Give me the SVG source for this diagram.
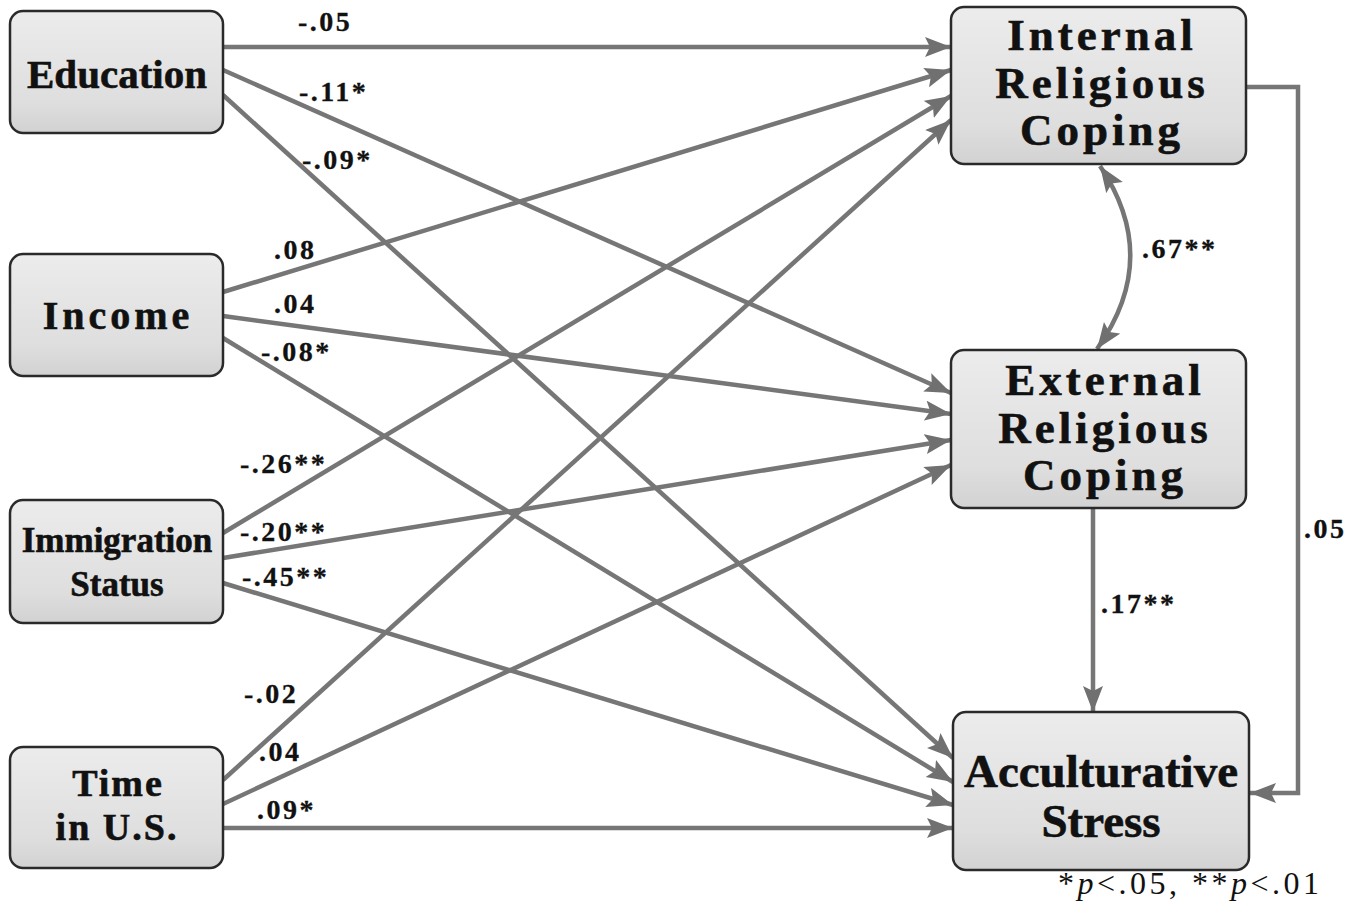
<svg xmlns="http://www.w3.org/2000/svg" width="1365" height="918" viewBox="0 0 1365 918">
<style>
.box{fill:url(#g);stroke:#2a2a2a;stroke-width:2.5}
.lbl{font-family:"Liberation Serif","Times New Roman",serif;font-weight:bold;fill:#111;stroke:#111;stroke-width:0.6;text-anchor:middle}
.pl{font-family:"Liberation Serif","Times New Roman",serif;font-weight:bold;font-size:28px;letter-spacing:2.5px;fill:#111;stroke:#111;stroke-width:0.3}
.c{fill:none;stroke:#767676;stroke-width:4.5}
</style>
<defs>
<linearGradient id="g" x1="0" y1="0" x2="0" y2="1">
<stop offset="0" stop-color="#ececec"/>
<stop offset="0.75" stop-color="#dedede"/>
<stop offset="1" stop-color="#d2d2d2"/>
</linearGradient>
<marker id="ah" markerUnits="userSpaceOnUse" markerWidth="28" markerHeight="22" refX="26" refY="10" orient="auto-start-reverse">
<path d="M0,0 L26,10 L0,20 L5,10 z" fill="#707070"/>
</marker>
</defs>
<rect width="1365" height="918" fill="#ffffff"/>

<g id="connectors">
<path class="c" marker-end="url(#ah)" d="M223,47 L951,47"/>
<path class="c" marker-end="url(#ah)" d="M223,70 L951,393"/>
<path class="c" marker-end="url(#ah)" d="M223,95 L953,758"/>
<path class="c" marker-end="url(#ah)" d="M223,292 L951,70"/>
<path class="c" marker-end="url(#ah)" d="M223,316 L951,414"/>
<path class="c" marker-end="url(#ah)" d="M223,338 L953,782"/>
<path class="c" marker-end="url(#ah)" d="M223,533 L951,96"/>
<path class="c" marker-end="url(#ah)" d="M223,558 L951,440"/>
<path class="c" marker-end="url(#ah)" d="M223,583 L953,805"/>
<path class="c" marker-end="url(#ah)" d="M223,780 L951,120"/>
<path class="c" marker-end="url(#ah)" d="M223,804 L951,465"/>
<path class="c" marker-end="url(#ah)" d="M223,828 L953,828"/>
<path class="c" marker-start="url(#ah)" marker-end="url(#ah)" d="M1100,166 Q1162,258 1097,349"/>
<path class="c" marker-end="url(#ah)" d="M1093,508 L1093,712"/>
<path class="c" marker-end="url(#ah)" d="M1246,87 L1298,87 L1298,793 L1250,793"/>
<text class="pl" x="298" y="31">-.05</text>
<text class="pl" x="299" y="101">-.11*</text>
<text class="pl" x="302" y="169">-.09*</text>
<text class="pl" x="274" y="259">.08</text>
<text class="pl" x="274" y="313">.04</text>
<text class="pl" x="261" y="361">-.08*</text>
<text class="pl" x="240" y="473">-.26**</text>
<text class="pl" x="240" y="541">-.20**</text>
<text class="pl" x="242" y="586">-.45**</text>
<text class="pl" x="244" y="703">-.02</text>
<text class="pl" x="259" y="761">.04</text>
<text class="pl" x="257" y="819">.09*</text>
<text class="pl" x="1142" y="258">.67**</text>
<text class="pl" x="1101" y="613">.17**</text>
<text class="pl" x="1304" y="538">.05</text>
</g>

<g id="education">
<rect class="box" x="10" y="11" width="213" height="122" rx="13"/>
<text class="lbl" x="117" y="88" font-size="41">Education</text>
</g>
<g id="income">
<rect class="box" x="10" y="254" width="213" height="122" rx="13"/>
<text class="lbl" x="118" y="329" font-size="40" letter-spacing="4">Income</text>
</g>
<g id="immigration">
<rect class="box" x="10" y="500" width="213" height="123" rx="13"/>
<text class="lbl" x="117" y="552" font-size="35">Immigration</text>
<text class="lbl" x="117" y="596" font-size="35">Status</text>
</g>
<g id="time">
<rect class="box" x="10" y="747" width="213" height="121" rx="13"/>
<text class="lbl" x="118" y="796" font-size="38" letter-spacing="2">Time</text>
<text class="lbl" x="117" y="840" font-size="38" letter-spacing="2">in U.S.</text>
</g>
<g id="internal">
<rect class="box" x="951" y="7" width="295" height="157" rx="13"/>
<text class="lbl" x="1102" y="50" font-size="45" letter-spacing="4">Internal</text>
<text class="lbl" x="1102" y="98" font-size="45" letter-spacing="4">Religious</text>
<text class="lbl" x="1102" y="145" font-size="45" letter-spacing="4">Coping</text>
</g>
<g id="external">
<rect class="box" x="951" y="350" width="295" height="158" rx="13"/>
<text class="lbl" x="1105" y="395" font-size="45" letter-spacing="4">External</text>
<text class="lbl" x="1105" y="443" font-size="45" letter-spacing="4">Religious</text>
<text class="lbl" x="1105" y="490" font-size="45" letter-spacing="4">Coping</text>
</g>
<g id="acculturative">
<rect class="box" x="953" y="712" width="296" height="158" rx="13"/>
<text class="lbl" x="1101" y="787" font-size="47">Acculturative</text>
<text class="lbl" x="1101" y="837" font-size="47">Stress</text>
</g>
<text x="1058" y="894" font-family="Liberation Serif, Times New Roman, serif" font-size="32" letter-spacing="3.5" fill="#111">*<tspan font-style="italic">p</tspan>&lt;.05, **<tspan font-style="italic">p</tspan>&lt;.01</text>
</svg>
